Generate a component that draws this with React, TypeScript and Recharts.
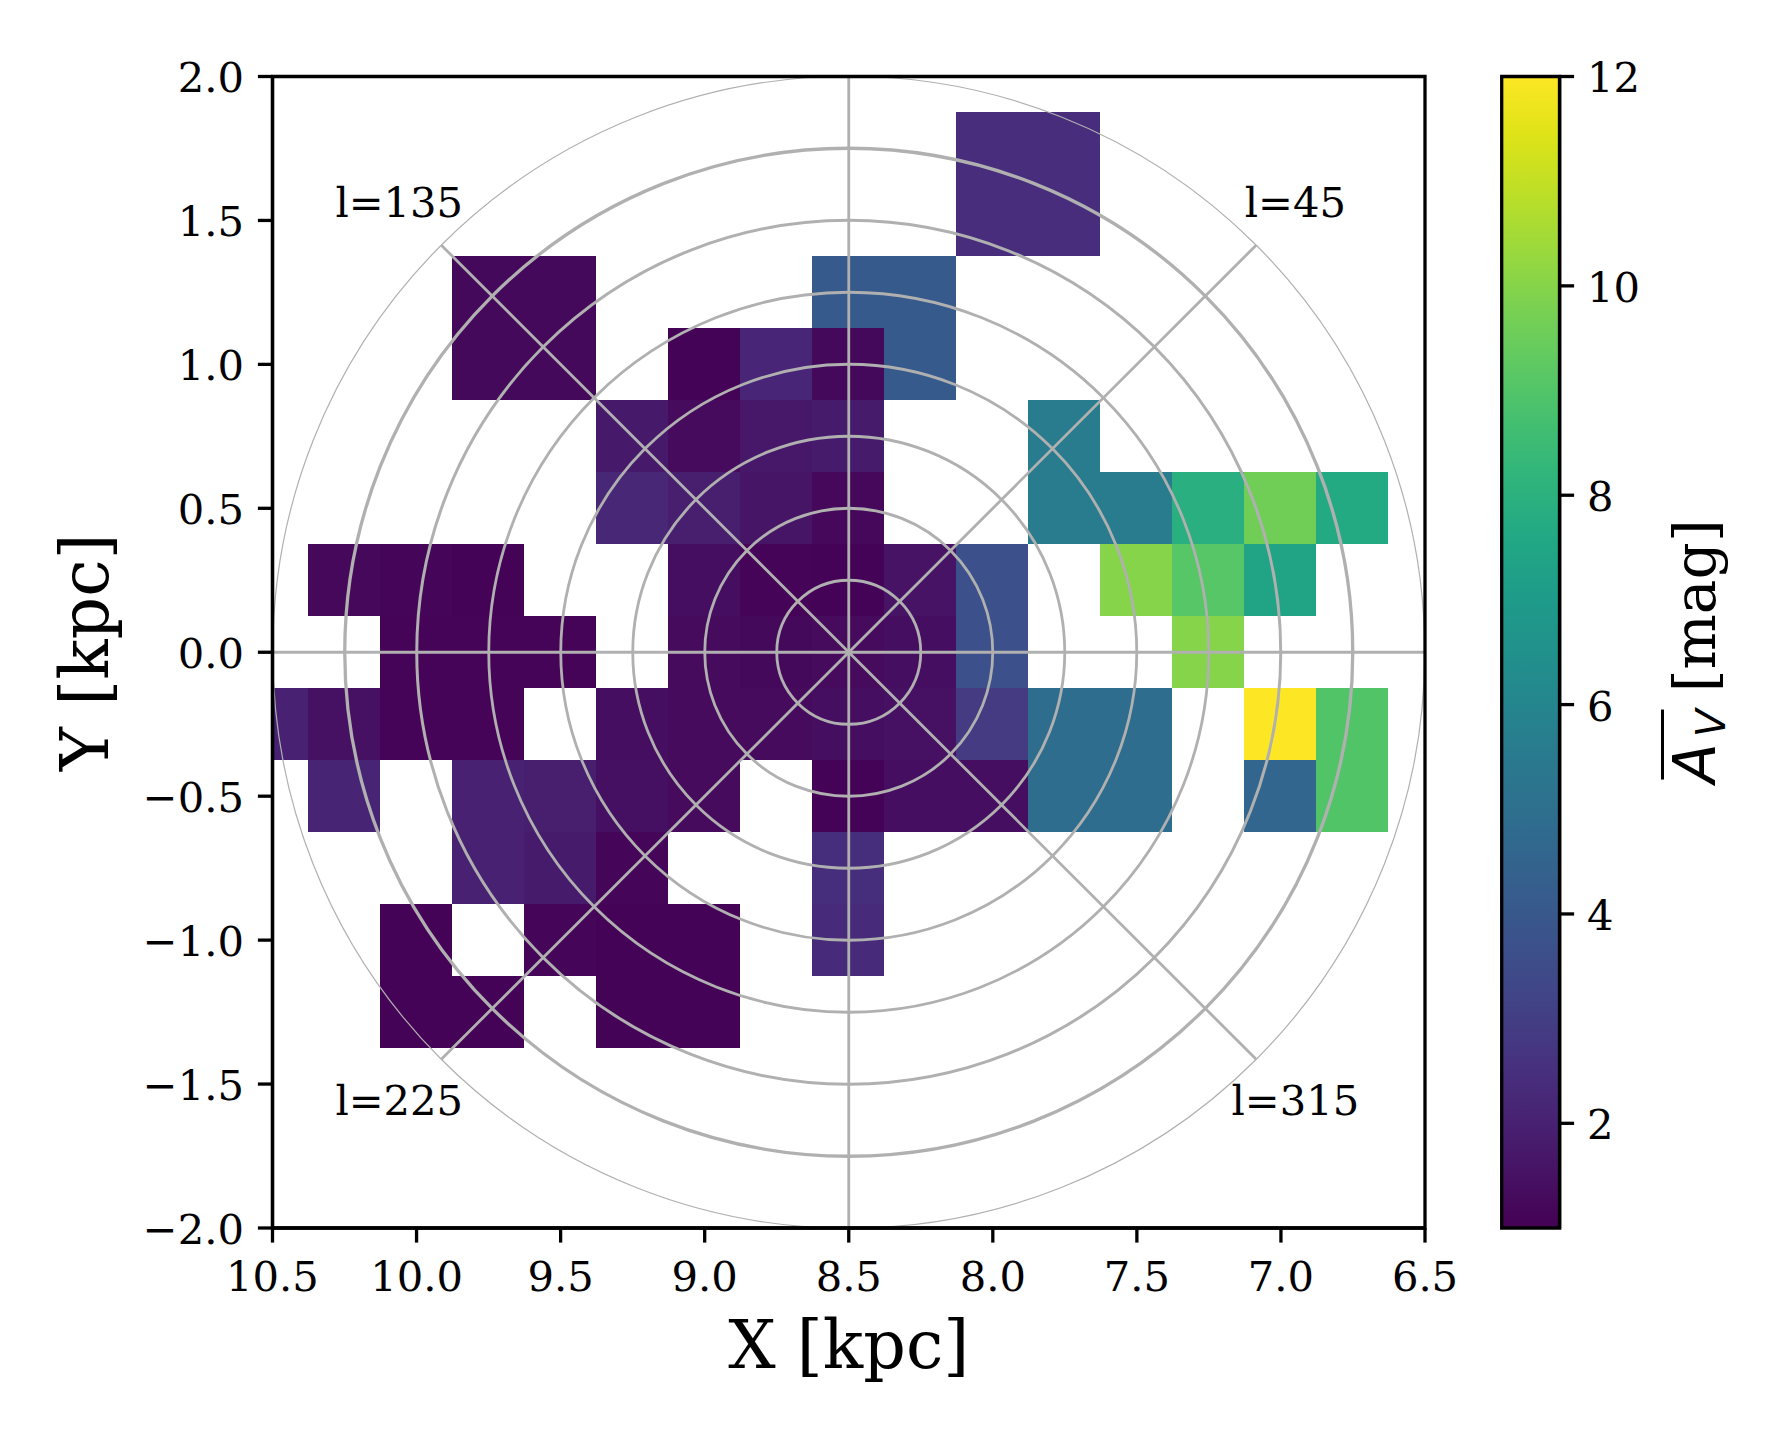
import {
  Bar,
  ComposedChart,
  Label,
  ReferenceArea,
  ReferenceDot,
  ReferenceLine,
  Scatter,
  ScatterChart,
  XAxis,
  YAxis,
} from "recharts";

const FONT = "DejaVu Serif";
const GRID = "#b0b0b0";
const PX_PER_KPC = 288;
const BIN_PX = 72;
const SPINE = 3.3;
const TICK = 14.6;

const xCenters = [10.5, 10.25, 10, 9.75, 9.5, 9.25, 9, 8.75, 8.5, 8.25, 8, 7.75, 7.5, 7.25, 7, 6.75];
const yCenters = [1.75, 1.5, 1.25, 1, 0.75, 0.5, 0.25, 0, -0.25, -0.5, -0.75, -1, -1.25];
const _ = null;
// mean A_V per bin, one row per yCenters entry
const avRows = [
  [_, _, _, _, _, _, _, _, _, _, 2.4, 2.4, _, _, _, _],
  [_, _, _, _, _, _, _, _, _, _, 2.4, 2.4, _, _, _, _],
  [_, _, _, 1.25, 1.25, _, _, _, 4.1, 4.1, _, _, _, _, _, _],
  [_, _, _, 1.25, 1.25, _, 1.05, 2.15, 1.25, 4.1, _, _, _, _, _, _],
  [_, _, _, _, _, 1.75, 1.3, 1.7, 1.8, _, _, 5.6, _, _, _, _],
  [_, _, _, _, _, 2.2, 1.9, 1.6, 1.2, _, _, 5.6, 5.6, 7.9, 9.6, 7.7],
  [_, 1.2, 1.15, 1.05, _, _, 1.4, 1.1, 1.05, 1.55, 3.7, _, 10.0, 9.1, 7.4, _],
  [_, _, 1.1, 1.1, 1.1, _, 1.3, 1.25, 1.3, 1.4, 3.7, _, _, 10.0, _, _],
  [2.0, 1.5, 1.1, 1.1, _, 1.4, 1.3, 1.3, 1.4, 1.5, 2.9, 4.9, 4.9, _, 12, 9.0],
  [_, 2.1, _, 2.0, 1.9, 1.45, 1.3, _, 1.05, 1.4, 1.4, 4.9, 4.9, _, 4.6, 9.0],
  [_, _, _, 2.0, 1.8, 1.15, _, _, 2.45, _, _, _, _, _, _, _],
  [_, _, 1.05, _, 1.15, 1.05, 1.05, _, 2.35, _, _, _, _, _, _, _],
  [_, _, 1.05, 1.05, _, 1.05, 1.05, _, _, _, _, _, _, _, _, _],
];

const xTicks = [10.5, 10, 9.5, 9, 8.5, 8, 7.5, 7, 6.5];
const yTicks = [2, 1.5, 1, 0.5, 0, -0.5, -1, -1.5, -2];
const cbarTicks = [2, 4, 6, 8, 10, 12];
const ringRadii = [0.25, 0.5, 0.75, 1, 1.25, 1.5, 1.75, 2];
const ringWidths = [2.8, 2.8, 2.8, 2.8, 2.8, 3, 3.3, 1.2];
const spokeReach = [1.414, 1.414];
const sectorLabels = [
  { name: "l=135", x: 10.06, y: 1.565 },
  { name: "l=45", x: 6.95, y: 1.565 },
  { name: "l=225", x: 10.06, y: -1.555 },
  { name: "l=315", x: 6.95, y: -1.555 },
];
const viridis = [
  "#440154", "#471365", "#482475", "#463480", "#414487", "#3b528b", "#355f8d",
  "#2f6c8e", "#2a788e", "#25848e", "#21918c", "#1e9c89", "#22a884", "#2fb47c",
  "#44bf70", "#5ec962", "#7ad151", "#9bd93c", "#bddf26", "#dfe318", "#fde725",
];
const AV_MIN = 1;
const AV_MAX = 12;

function mix(a: string, b: string, f: number) {
  const out = [1, 3, 5].map((i) => {
    const p = parseInt(a.slice(i, i + 2), 16);
    const q = parseInt(b.slice(i, i + 2), 16);
    return Math.round(p + (q - p) * f);
  });
  return `rgb(${out.join(",")})`;
}

function avColor(v: number) {
  const t = ((v - AV_MIN) / (AV_MAX - AV_MIN)) * (viridis.length - 1);
  const i = Math.min(Math.floor(t), viridis.length - 2);
  return mix(viridis[i], viridis[i + 1], t - i);
}

const cells = avRows.flatMap((row, r) =>
  row.flatMap((av, c) => (av === null ? [] : [{ x: xCenters[c], y: yCenters[r], av }]))
);

const fmtTick = (v: number) => v.toFixed(1).replace("-", "\u2212");

function HeatCell(props: any) {
  const { cx, cy, payload } = props;
  return (
    <rect
      x={cx - BIN_PX / 2 - 0.5}
      y={cy - BIN_PX / 2}
      width={BIN_PX}
      height={BIN_PX}
      fill={avColor(payload.av)}
      shapeRendering="crispEdges"
    />
  );
}

function ColorbarLabel({ viewBox }: any) {
  const cy = viewBox.y + viewBox.height / 2;
  return (
    <g transform={`translate(${viewBox.x + 155}, ${cy + 131}) rotate(-90)`}>
      <line x1={3.7} x2={73.7} y1={-52} y2={-52} stroke="#000" strokeWidth={3} />
      <text fontFamily="DejaVu Sans" fontSize={58.33} fontStyle="italic" x={0} y={0}>
        A
      </text>
      <text fontFamily="DejaVu Sans" fontSize={40.8} fontStyle="italic" x={46} y={10}>
        V
      </text>
      <text fontFamily={FONT} fontSize={58.33} x={91} y={0}>
        [mag]
      </text>
    </g>
  );
}

export default function App() {
  const tickStyle = { fontSize: 41.67, fontFamily: FONT, fill: "#000", dy: 1.2 };
  const xTickStyle = { fontSize: 41.67, fontFamily: FONT, fill: "#000" };
  const axisLine = { stroke: "#000", strokeWidth: SPINE };
  const tickLine = { stroke: "#000", strokeWidth: SPINE };
  return (
    <div style={{ position: "absolute", left: 0, top: 0, width: 1791, height: 1441, background: "#fff" }}>
      <div style={{ position: "absolute", left: 0, top: 0 }}>
        <ScatterChart
          width={1480}
          height={1441}
          margin={{ top: 76.5, right: 55, bottom: 0, left: 0 }}
        >
          <XAxis
            type="number"
            dataKey="x"
            reversed
            domain={[6.5, 10.5]}
            ticks={xTicks}
            allowDataOverflow
            height={213}
            tickSize={TICK}
            tickMargin={19}
            tickFormatter={fmtTick}
            tick={xTickStyle}
            axisLine={axisLine}
            tickLine={tickLine}
            interval={0}
          >
            <Label
              value="X [kpc]"
              position="insideBottom"
              offset={73}
              style={{ fontSize: 66.67, fontFamily: FONT, fill: "#000" }}
            />
          </XAxis>
          <YAxis
            type="number"
            dataKey="y"
            domain={[-2, 2]}
            ticks={yTicks}
            allowDataOverflow
            width={272.5}
            tickSize={TICK}
            tickMargin={14}
            tickFormatter={fmtTick}
            tick={tickStyle}
            axisLine={axisLine}
            tickLine={tickLine}
            interval={0}
          >
            <Label
              value="Y [kpc]"
              angle={-90}
              position="insideLeft"
              offset={84}
              style={{ fontSize: 66.67, fontFamily: FONT, fill: "#000", textAnchor: "middle" }}
            />
          </YAxis>
          <Scatter data={cells} shape={HeatCell} isAnimationActive={false} zIndex={100} />
          {ringRadii.map((r, i) => (
            <ReferenceDot
              key={r}
              x={8.5}
              y={0}
              r={r * PX_PER_KPC}
              fill="none"
              stroke={GRID}
              strokeWidth={ringWidths[i]}
              zIndex={200}
            />
          ))}
          <ReferenceLine x={8.5} stroke={GRID} strokeWidth={2.8} zIndex={200} />
          <ReferenceLine y={0} stroke={GRID} strokeWidth={2.8} zIndex={200} />
          <ReferenceLine
            segment={[
              { x: 8.5 - spokeReach[0], y: -spokeReach[1] },
              { x: 8.5 + spokeReach[0], y: spokeReach[1] },
            ]}
            stroke={GRID}
            strokeWidth={2.8}
            zIndex={200}
          />
          <ReferenceLine
            segment={[
              { x: 8.5 - spokeReach[0], y: spokeReach[1] },
              { x: 8.5 + spokeReach[0], y: -spokeReach[1] },
            ]}
            stroke={GRID}
            strokeWidth={2.8}
            zIndex={200}
          />
          {sectorLabels.map((s) => (
            <ReferenceDot
              key={s.name}
              x={s.x}
              y={s.y}
              r={0}
              fill="none"
              stroke="none"
              zIndex={300}
              label={{ value: s.name, position: "center", style: { fontSize: 41.67, fontFamily: FONT, fill: "#000" } }}
            />
          ))}
          <ReferenceArea
            x1={10.5}
            x2={6.5}
            y1={-2}
            y2={2}
            fill="none"
            stroke="#000"
            strokeWidth={SPINE}
            zIndex={400}
          />
        </ScatterChart>
      </div>
      <div style={{ position: "absolute", left: 1480, top: 0 }}>
        <ComposedChart
          width={311}
          height={1441}
          data={[{ name: "cbar", range: [AV_MIN, AV_MAX] }]}
          margin={{ top: 76.5, right: 0, bottom: 213, left: 21.7 }}
          barCategoryGap={0}
        >
          <defs>
            <linearGradient id="viridisGrad" x1="0" y1="1" x2="0" y2="0">
              {viridis.map((c, i) => (
                <stop key={c} offset={i / (viridis.length - 1)} stopColor={c} />
              ))}
            </linearGradient>
          </defs>
          <XAxis dataKey="name" hide />
          <YAxis
            type="number"
            orientation="right"
            domain={[AV_MIN, AV_MAX]}
            ticks={cbarTicks}
            width={231.5}
            tickSize={TICK}
            tickMargin={13}
            tick={tickStyle}
            axisLine={axisLine}
            tickLine={tickLine}
            interval={0}
          >
            <Label content={ColorbarLabel} />
          </YAxis>
          <Bar
            dataKey="range"
            fill="url(#viridisGrad)"
            stroke="#000"
            strokeWidth={SPINE}
            isAnimationActive={false}
          />
        </ComposedChart>
      </div>
    </div>
  );
}
